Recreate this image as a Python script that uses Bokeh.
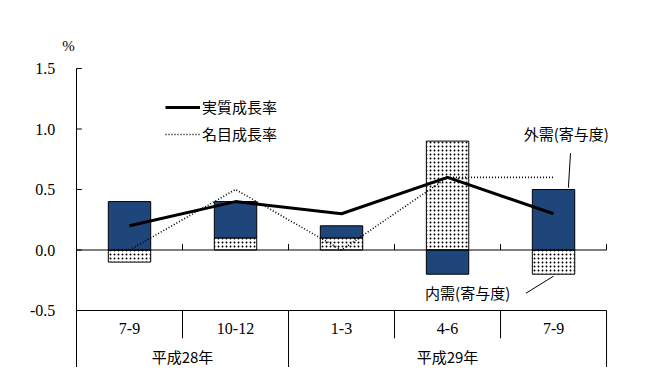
import numpy as np
from bokeh.plotting import figure
from bokeh.models import Range1d, Legend, LegendItem
from bokeh.core.properties import value
from bokeh.embed import file_html
from bokeh.resources import INLINE

# ---- data ----
quarters = ["7-9", "10-12", "1-3", "4-6", "7-9"]
years = ["平成28年", "平成29年"]
year_spans = [2, 3]
external = [0.4, 0.3, 0.1, -0.2, 0.5]      # 外需(寄与度)
domestic = [-0.1, 0.1, 0.1, 0.9, -0.2]     # 内需(寄与度)
real_growth = [0.2, 0.4, 0.3, 0.6, 0.3]    # 実質成長率
nominal_growth = [0.0, 0.5, 0.0, 0.6, 0.6] # 名目成長率
y_ticks = [-0.5, 0.0, 0.5, 1.0, 1.5]
y_tick_labels = ["-0.5", "0.0", "0.5", "1.0", "1.5"]

JP = "Noto Sans CJK JP"
NUM = "Liberation Serif"
NAVY = "#1F467B"

n = len(quarters)
x = np.arange(n) + 0.5
ext = np.array(external)
dom = np.array(domestic)

dom_bottom = np.where(dom >= 0, 0, dom)
dom_top = np.where(dom >= 0, dom, 0)
ext_bottom = np.where(ext >= 0, np.maximum(dom, 0), np.minimum(dom, 0) + ext)
ext_top = np.where(ext >= 0, np.maximum(dom, 0) + ext, np.minimum(dom, 0))

y_lo, y_hi = -0.971, 2.062
p = figure(width=637, height=367,
           x_range=Range1d(-0.717, 5.292), y_range=Range1d(y_lo, y_hi),
           x_axis_location=None, y_axis_location=None,
           output_backend="svg", toolbar_location=None,
           min_border_left=0, min_border_top=0,
           min_border_right=0, min_border_bottom=0)
p.grid.visible = False
p.outline_line_color = None
p.background_fill_color = "white"

# bars
p.vbar(x=x, bottom=dom_bottom, top=dom_top, width=0.4,
       fill_color="white", line_color="black", line_width=1,
       hatch_pattern="dot", hatch_color="black", hatch_scale=4, hatch_weight=0.5)
p.vbar(x=x, bottom=ext_bottom, top=ext_top, width=0.4,
       fill_color=NAVY, line_color="black", line_width=1)

# y axis (drawn by hand so the "%" unit can sit above it)
p.segment(x0=[0], y0=[y_lo], x1=[0], y1=[max(y_ticks)], line_color="black", line_width=1)
p.segment(x0=0, y0=y_ticks, x1=0.05, y1=y_ticks, line_color="black", line_width=1)
p.text(x=-0.2, y=y_ticks, text=y_tick_labels, text_align="right", text_baseline="middle",
       text_font=value(NUM), text_font_size="16px", text_color="black")
p.text(x=[-0.075], y=[1.69], text=["%"], text_align="center", text_baseline="middle",
       text_font=value(NUM), text_font_size="15px", text_color="black")

# reference lines
bounds = np.arange(1, n + 1)
p.segment(x0=[0], y0=[0], x1=[n], y1=[0], line_color="black", line_width=1)
p.segment(x0=bounds, y0=0, x1=bounds, y1=0.05, line_color="black", line_width=1)
p.segment(x0=[0], y0=[-0.5], x1=[n], y1=[-0.5], line_color="black", line_width=1)

# category separators
year_edges = np.cumsum(year_spans)
inner = [b for b in bounds if b not in year_edges]
p.segment(x0=inner, y0=-0.5, x1=inner, y1=-0.73, line_color="black", line_width=1)
p.segment(x0=year_edges, y0=-0.5, x1=year_edges, y1=y_lo, line_color="black", line_width=1)

# category labels
p.text(x=x, y=-0.647, text=quarters, text_align="center", text_baseline="middle",
       text_font=value(NUM), text_font_size="16px", text_color="black")
year_centers = np.cumsum(year_spans) - np.array(year_spans) / 2
p.text(x=year_centers, y=-0.879, text=years, text_align="center", text_baseline="middle",
       text_font=value(JP), text_font_size="15px", text_color="black")

# growth lines
r_real = p.line(x=x, y=real_growth, line_color="black", line_width=3)
r_nom = p.line(x=x, y=nominal_growth, line_color="black", line_width=1.6,
               line_dash="1 2")

legend = Legend(items=[LegendItem(label="実質成長率", renderers=[r_real]),
                       LegendItem(label="名目成長率", renderers=[r_nom])],
                location=(165, 223), orientation="vertical",
                glyph_width=35, glyph_height=20, label_height=20, spacing=6,
                label_standoff=2, padding=0, margin=0,
                border_line_color=None, background_fill_alpha=0,
                label_text_font=JP, label_text_font_size="15px",
                label_text_color="black")
p.add_layout(legend, "center")

# annotations
p.text(x=[4.62], y=[0.96], text=["外需(寄与度)"], text_align="center", text_baseline="middle",
       text_font=value(JP), text_font_size="15px", text_color="black")
p.segment(x0=[4.66], y0=[0.80], x1=[4.64], y1=[0.515], line_color="black", line_width=1)
p.text(x=[3.69], y=[-0.35], text=["内需(寄与度)"], text_align="center", text_baseline="middle",
       text_font=value(JP), text_font_size="15px", text_color="black")
p.segment(x0=[4.24], y0=[-0.357], x1=[4.5], y1=[-0.216], line_color="black", line_width=1)

open("out.html", "w").write(file_html(p, INLINE))
